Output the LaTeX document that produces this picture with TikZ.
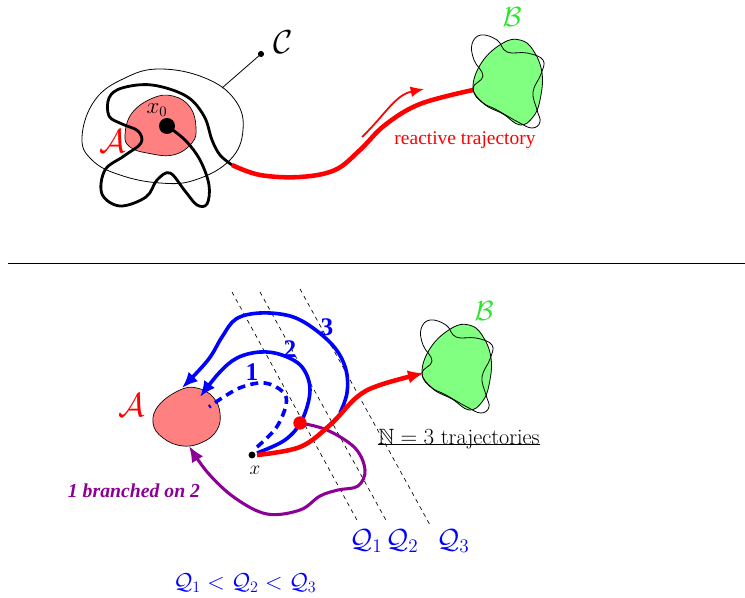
\documentclass[tikz,border=0pt]{standalone}
\usepackage{amssymb}
\usepackage{fontspec}
\newfontfamily\timesf{Liberation Serif}
\usetikzlibrary{arrows.meta}
\definecolor{pinkA}{RGB}{255,128,128}
\definecolor{greenB}{RGB}{128,255,128}
\definecolor{greenT}{RGB}{40,230,40}
\definecolor{purp}{RGB}{140,0,150}
\tikzset{
  thinline/.style={black,line width=0.6pt},
  traj/.style={black,line width=2.1pt},
  redtraj/.style={red,line width=3.4pt},
  bluetraj/.style={blue,line width=2.7pt},
  purtraj/.style={purp,line width=2.3pt},
  qline/.style={black,line width=0.5pt,dash pattern=on 3pt off 3pt},
  bigarrow/.style={-{Latex[length=12pt,width=10pt]}},
  lab/.style={inner sep=0pt},
}
\newcommand{\blobB}{%
  \fill[greenB,draw=black,line width=0.6pt] plot[smooth cycle,tension=0.7] coordinates {(473,88) (482,62) (503,43) (520,40) (533,50) (542,73) (540,100) (533,117) (520,125) (503,114) (484,104)};
  \draw[thinline] plot[smooth cycle,tension=0.7] coordinates {(473,88) (483,76) (474,60) (472,44) (481,35) (497,40) (507,52) (527,53) (543,60) (541,74) (533,92) (537,110) (540,122) (532,128) (518,122) (497,110) (482,102)};
}
\begin{document}
\begin{tikzpicture}[x=0.75pt,y=-0.75pt]
\useasboundingbox (0,0) rectangle (745,598);
% ---------- top ----------
\draw[thinline] plot[smooth cycle,tension=0.7] coordinates {(82,137) (95,100) (125,78) (160,69) (205,78) (235,100) (243,130) (230,160) (195,180) (160,183) (120,175) (92,160)};
\coordinate (cedge) at (222,88);
\fill (261,54) circle (2.3pt) coordinate (cdot);
\draw[thinline] (cedge) -- (cdot);
\node[lab] (Clab) at (283,42) {\fontsize{23}{25}\selectfont$\mathcal{C}$};
\fill[pinkA,draw=black,line width=0.5pt] plot[smooth cycle,tension=0.7] coordinates {(125,135) (132,113) (153,98) (173,96) (190,107) (196,127) (192,143) (173,155) (147,153) (130,147)};
\node[lab] (Alab) at (113,141) {\color{red}\fontsize{24}{26}\selectfont$\mathcal{A}$};
\node[lab] (x0lab) at (157,110) {\fontsize{16}{18}\selectfont$x_0$};
\draw[traj] plot[smooth,tension=0.6] coordinates {(167,126) (185,140) (200,160) (209,185) (207,204) (197,205) (185,191) (170,173) (157,180) (146,197) (120,206) (102,194) (105,170) (124,156) (141,143) (138,131) (122,124) (109,116) (109,98) (122,88) (152,85) (186,96) (204,116) (212,140) (220,155) (232,165)};
\fill (167,126) circle (6pt) coordinate (x0);
\draw[redtraj] plot[smooth,tension=0.6] coordinates {(232,165) (260,175) (300,177) (335,170) (360,150) (385,125) (420,104) (473,90)};
\draw[red,line width=1.3pt,-{Latex[length=10pt,width=8pt]}] (362,137) .. controls (385,115) and (395,95) .. (424,89);
\node[lab] (rt) at (465,140) {\color{red}\timesf\fontsize{14.6}{16}\selectfont reactive trajectory};
\blobB
\node[lab] (Btop) at (512,17) {\color{greenT}\fontsize{22}{24}\selectfont$\mathcal{B}$};
% ---------- separator ----------
\draw[black,line width=0.6pt] (8,263) -- (745,263);
% ---------- bottom ----------
\begin{scope}[shift={(-51,285)}]
\blobB
\end{scope}
\node[lab] (Bbot) at (484,311) {\color{greenT}\fontsize{22}{24}\selectfont$\mathcal{B}$};
\draw[qline] (232,292) -- (358,522);
\draw[qline] (260,292) -- (387,522);
\draw[qline] (300,289) -- (430,525);
\node[lab] (Q1) at (366,541) {\color{blue}\fontsize{21}{23}\selectfont$\mathcal{Q}_1$};
\node[lab] (Q2) at (402,541) {\color{blue}\fontsize{21}{23}\selectfont$\mathcal{Q}_2$};
\node[lab] (Q3) at (453,541) {\color{blue}\fontsize{21}{23}\selectfont$\mathcal{Q}_3$};
\fill[pinkA,draw=black,line width=0.5pt] plot[smooth cycle,tension=0.7] coordinates {(153,423) (159,405) (180,390) (197,388) (213,397) (220,413) (217,430) (203,442) (183,446) (163,438)};
\node (Abot) at (187,415) {};
\node[lab] (Alab2) at (132,405) {\color{red}\fontsize{24}{26}\selectfont$\mathcal{A}$};
\draw[bluetraj,dash pattern=on 6pt off 4pt] plot[smooth,tension=0.6] coordinates {(257,447) (276,428) (286,405) (283,392) (265,383) (242,387) (222,398) (209,407)};
\draw[bluetraj,bigarrow] plot[smooth,tension=0.6] coordinates {(257,453) (285,440) (302,420) (310,390) (302,367) (282,355) (260,352) (237,358) (219,373) (200,397)};
\draw[bluetraj,bigarrow] plot[smooth,tension=0.6] coordinates {(340,413) (347,393) (346,370) (335,348) (313,328) (290,316) (260,313) (236,319) (222,337) (208,360) (182,388)};
\draw[purtraj,bigarrow] plot[smooth,tension=0.6] coordinates {(300,423) (327,430) (355,448) (365,470) (358,486) (338,490) (320,496) (300,510) (267,514) (235,498) (208,473) (189,446)};
\draw[redtraj,bigarrow] plot[smooth,tension=0.6] coordinates {(257,455) (300,447) (330,425) (357,397) (380,385) (424,373)};
\fill[red] (300,423) circle (5pt) coordinate (rdot);
\fill (252,455) circle (2.6pt) coordinate (xdot);
\node[lab] (xlab) at (255,470) {\fontsize{14}{16}\selectfont$x$};
\node[lab] (n1) at (252,372) {\color{blue}\timesf\bfseries\fontsize{19}{21}\selectfont 1};
\node[lab] (n2) at (290,349) {\color{blue}\timesf\bfseries\fontsize{19}{21}\selectfont 2};
\node[lab] (n3) at (327,327) {\color{blue}\timesf\bfseries\fontsize{19}{21}\selectfont 3};
\node[lab,anchor=base west] (Ntraj) at (378,444) {\fontsize{16.6}{19}\selectfont$\mathbb{N}=3$ trajectories};
\draw[black,line width=0.7pt] (Ntraj.south west) ++(0,-4) coordinate (ul1) -- (ul1 -| Ntraj.south east);
\node[lab] (branch) at (134,491) {\color{purp}\timesf\bfseries\itshape\fontsize{14.8}{16}\selectfont 1 branched on 2};
\node[lab] (order) at (245,583) {\color{blue}\fontsize{18}{20}\selectfont$\mathcal{Q}_1<\mathcal{Q}_2<\mathcal{Q}_3$};
\end{tikzpicture}
\end{document}
